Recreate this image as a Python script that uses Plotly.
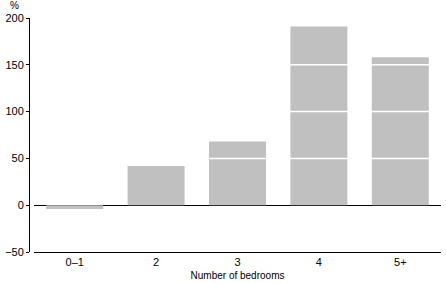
import plotly.graph_objects as go

categories = ["0–1", "2", "3", "4", "5+"]
values = [-4, 42, 68, 191, 158]
y_ticks = [-50, 0, 50, 100, 150, 200]
grid_over_bars = [50, 100, 150]

fig = go.Figure()
fig.add_trace(go.Bar(x=categories, y=values, marker=dict(color="#c0c0c0", line=dict(width=0)),
                     width=0.7))

for g in grid_over_bars:
    fig.add_shape(type="line", xref="x domain", yref="y", x0=0, x1=1, y0=g, y1=g,
                  line=dict(color="white", width=1.5), layer="above")

font = "Liberation Sans, Arial, sans-serif"
fig.update_layout(
    width=446, height=283,
    margin=dict(l=29, r=5, t=18, b=31),
    paper_bgcolor="white", plot_bgcolor="white",
    showlegend=False,
    font=dict(family=font, size=10, color="black"),
    xaxis=dict(domain=[5/412, 1], showline=True, linecolor="black", linewidth=1,
               ticks="", showgrid=False,
               title=dict(text="Number of bedrooms", font=dict(size=10, color="black"), standoff=4),
               tickfont=dict(size=11, color="black")),
    yaxis=dict(range=[-50, 200], tickvals=y_ticks, anchor="free", position=0,
               showline=True, linecolor="black", linewidth=1,
               ticks="outside", ticklen=3, tickcolor="black",
               showgrid=False, zeroline=True, zerolinecolor="black", zerolinewidth=1,
               tickfont=dict(size=11, color="black")),
    annotations=[dict(text="%", xref="paper", yref="paper", x=-0.035, y=1.0,
                      xanchor="center", yanchor="bottom", showarrow=False, yshift=5,
                      font=dict(size=10, color="black"))],
)

fig.write_html("out.html")
